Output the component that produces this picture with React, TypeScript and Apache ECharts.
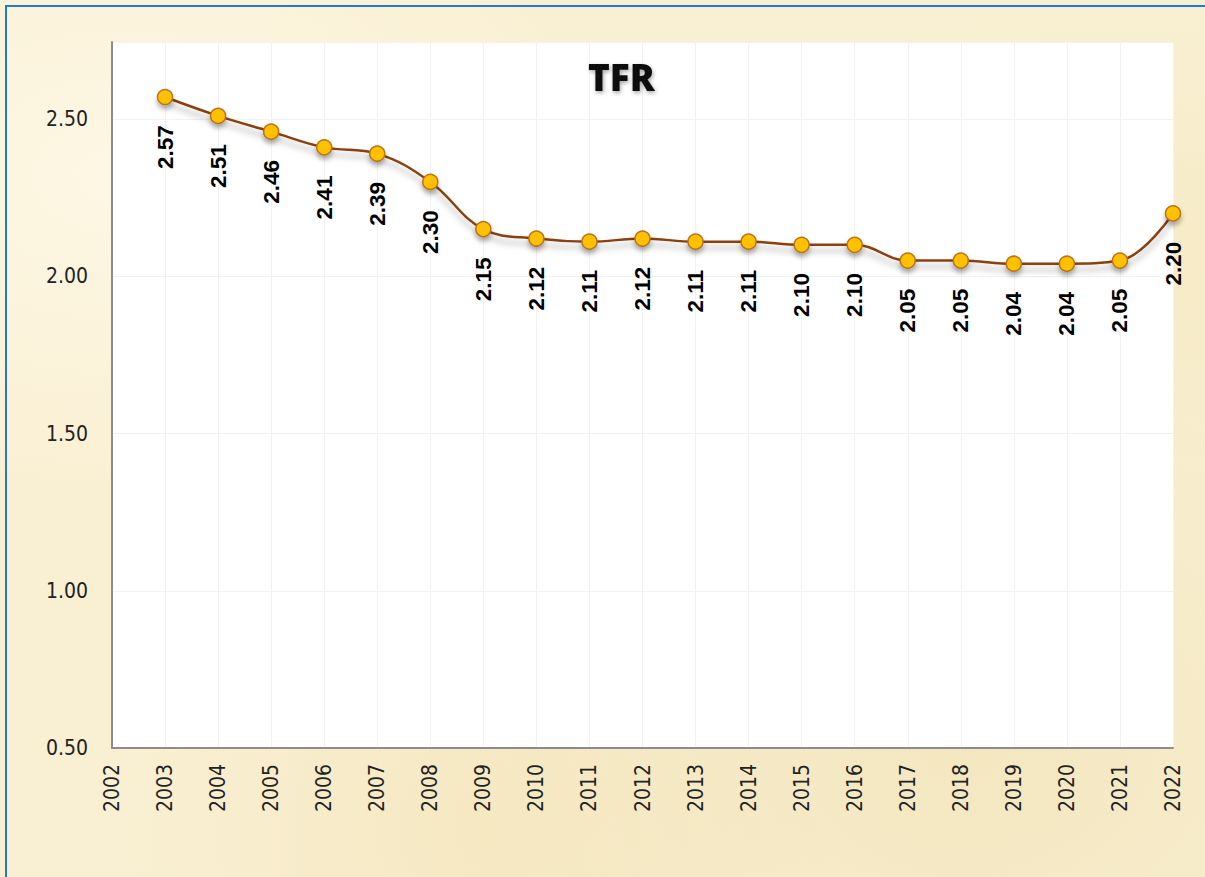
import React, { useEffect, useRef } from "react";
import * as echarts from "echarts";

const years = [
  "2002", "2003", "2004", "2005", "2006", "2007", "2008", "2009", "2010", "2011", "2012",
  "2013", "2014", "2015", "2016", "2017", "2018", "2019", "2020", "2021", "2022",
];
const tfr: (number | null)[] = [
  null, 2.57, 2.51, 2.46, 2.41, 2.39, 2.3, 2.15, 2.12, 2.11, 2.12,
  2.11, 2.11, 2.1, 2.1, 2.05, 2.05, 2.04, 2.04, 2.05, 2.2,
];
const yMin = 0.5;
const yMax = 2.745;
const yStep = 0.5;
const titleText = "TFR";

const narrow = "'Liberation Sans Narrow', 'DejaVu Sans Condensed', 'Roboto', sans-serif";

export default function App() {
  const ref = useRef<HTMLDivElement>(null);
  useEffect(() => {
    if (!ref.current) return;
    const chart = echarts.init(ref.current, null, { renderer: "svg" });
    chart.setOption({
      animation: false,
      backgroundColor: "transparent",
      title: {
        text: titleText,
        left: 583,
        top: 53,
        textStyle: {
          fontFamily: "'Open Sans', 'Liberation Sans', sans-serif",
          fontWeight: 900,
          fontSize: 37,
          color: "#111",
          textShadowColor: "rgba(0,0,0,0.35)",
          textShadowBlur: 4,
          textShadowOffsetX: 1,
          textShadowOffsetY: 2,
        },
      },
      grid: {
        left: 112,
        right: 32,
        top: 42,
        bottom: 129,
        show: true,
        backgroundColor: "#ffffff",
        borderWidth: 0,
      },
      xAxis: {
        type: "category",
        data: years,
        boundaryGap: false,
        axisTick: { show: false },
        axisLine: { lineStyle: { color: "#8c8c8c", width: 2 } },
        axisLabel: {
          rotate: 90,
          margin: 16,
          fontSize: 21,
          fontFamily: narrow,
          color: "#222",
        },
        splitLine: { show: true, lineStyle: { color: "#f2f2f2", width: 1 } },
      },
      yAxis: {
        type: "value",
        min: yMin,
        max: yMax,
        interval: yStep,
        axisLine: { show: true, lineStyle: { color: "#8c8c8c", width: 2 } },
        axisTick: { show: false },
        axisLabel: {
          showMaxLabel: false,
          margin: 24,
          fontSize: 21,
          fontFamily: narrow,
          color: "#222",
          formatter: (v: number) => v.toFixed(2),
        },
        splitLine: { show: true, lineStyle: { color: "#f2f2f2", width: 1 } },
      },
      series: [
        {
          type: "line",
          data: tfr,
          smooth: 0.4,
          connectNulls: false,
          symbol: "circle",
          symbolSize: 15,
          lineStyle: {
            color: "#8B4010",
            width: 2.5,
            shadowColor: "rgba(0,0,0,0.3)",
            shadowBlur: 6,
            shadowOffsetY: 6,
          },
          itemStyle: {
            color: "#FFC000",
            borderColor: "#B8741A",
            borderWidth: 1.5,
            shadowColor: "rgba(0,0,0,0.3)",
            shadowBlur: 5,
            shadowOffsetY: 4,
          },
          label: {
            show: true,
            position: "bottom",
            distance: 20,
            rotate: 90,
            align: "right",
            verticalAlign: "middle",
            fontFamily: "'Liberation Sans', Arial, sans-serif",
            fontWeight: "bold",
            fontSize: 22.5,
            color: "#000",
            formatter: (p: any) => (p.value == null ? "" : Number(p.value).toFixed(2)),
          },
        },
      ],
    });
    return () => chart.dispose();
  }, []);

  return (
    <div
      style={{
        position: "fixed",
        left: 0,
        top: 0,
        width: 1205,
        height: 877,
        overflow: "hidden",
        backgroundColor: "#F9EFD2",
        backgroundImage:
          "radial-gradient(ellipse at 10% 20%, rgba(255,250,235,0.7) 0%, rgba(255,250,235,0) 35%)," +
          "radial-gradient(ellipse at 80% 85%, rgba(240,226,180,0.6) 0%, rgba(240,226,180,0) 40%)," +
          "radial-gradient(ellipse at 95% 30%, rgba(245,232,190,0.6) 0%, rgba(245,232,190,0) 30%)," +
          "radial-gradient(ellipse at 40% 95%, rgba(244,230,188,0.7) 0%, rgba(244,230,188,0) 35%)",
      }}
    >
      <div
        style={{
          position: "absolute",
          left: 5,
          top: 5,
          width: 1300,
          height: 1000,
          border: "2px solid #1F7AD0",
          boxSizing: "border-box",
          pointerEvents: "none",
        }}
      />
      <div ref={ref} style={{ position: "absolute", left: 0, top: 0, width: 1205, height: 877 }} />
    </div>
  );
}
